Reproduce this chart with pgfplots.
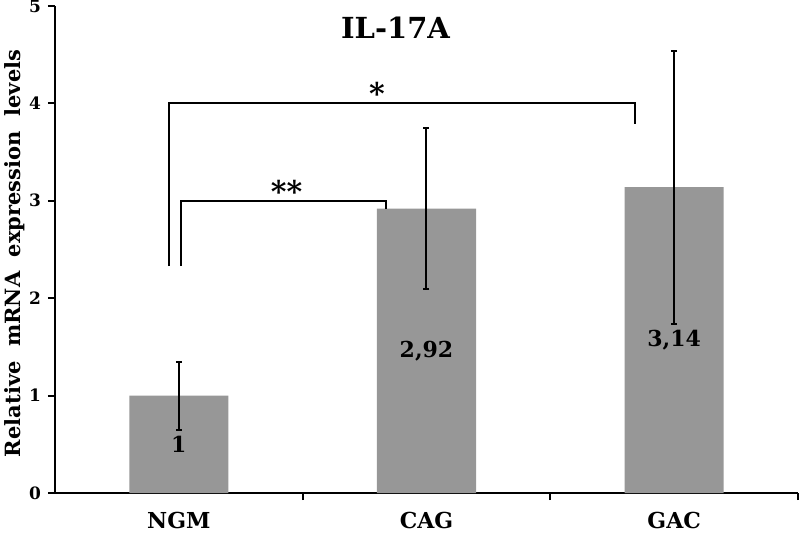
\documentclass[border=0pt]{standalone}
\usepackage{pgfplots}
\pgfplotsset{compat=1.18}
\usepackage{fontspec}
\setmainfont{DejaVu Serif}
\definecolor{barcol}{HTML}{979797}

\begin{document}
\begin{tikzpicture}[font=\bfseries]
  \useasboundingbox (-27.5pt,-22.5pt) rectangle (372.5pt,246.5pt);
  \begin{axis}[
    at={(0pt,0pt)}, anchor=south west,
    scale only axis, width=371.5pt, height=243.5pt,
    xmin=-0.5, xmax=2.5, ymin=0, ymax=5,
    axis x line*=bottom, axis y line*=left,
    axis line style={line width=1pt},
    tick style={line width=1pt, black},
    tick align=outside, major tick length=3.5pt,
    xtick={0.5,1.5,2.5}, xticklabels={},
    extra x ticks={0,1,2}, extra x tick labels={NGM,CAG,GAC},
    extra x tick style={major tick length=0pt},
    xticklabel style={font=\bfseries\fontsize{11}{13}\selectfont, yshift=-6pt},
    ytick={0,1,2,3,4,5},
    yticklabel style={font=\bfseries\fontsize{8.5}{10}\selectfont},
    /pgf/number format/assume math mode=true,
    ylabel={Relative\ \ mRNA\ \ expression\ \ levels},
    ylabel style={font=\bfseries\fontsize{10.5}{12}\selectfont,
      at={(axis description cs:-0.0545,0.492)}, anchor=center},
    clip=false,
  ]
    \addplot[ybar, bar width=0.4, fill=barcol, draw=none,
      error bars/.cd, y dir=both, y explicit,
      error bar style={line width=1pt, black},
      error mark options={rotate=90, mark size=1.5pt, line width=1pt, black}]
      coordinates {(0,1) +- (0,0.35)
                   (1,2.92) +- (0,0.83)
                   (2,3.14) +- (0,1.40)};

    \node[font=\bfseries\fontsize{11}{13}\selectfont] at (axis cs:0,0.5) {1};
    \node[font=\bfseries\fontsize{11}{13}\selectfont] at (axis cs:1,1.46) {2,92};
    \node[font=\bfseries\fontsize{11}{13}\selectfont] at (axis cs:2,1.57) {3,14};

    \draw[line width=1pt] (axis cs:-0.04,2.33) -- (axis cs:-0.04,4.0)
      -- (axis cs:1.84,4.0) -- (axis cs:1.84,3.79);
    \draw[line width=1pt] (axis cs:0.01,2.33) -- (axis cs:0.01,3.0)
      -- (axis cs:0.835,3.0) -- (axis cs:0.835,2.92);
    \node[font=\bfseries\fontsize{15}{17}\selectfont] at (axis cs:0.80,4.10) {*};
    \node[font=\bfseries\fontsize{15}{17}\selectfont] at (axis cs:0.435,3.10) {**};

    \node[font=\bfseries\fontsize{14.5}{17}\selectfont] at (axis cs:0.875,4.78) {IL-17A};
  \end{axis}
\end{tikzpicture}
\end{document}
